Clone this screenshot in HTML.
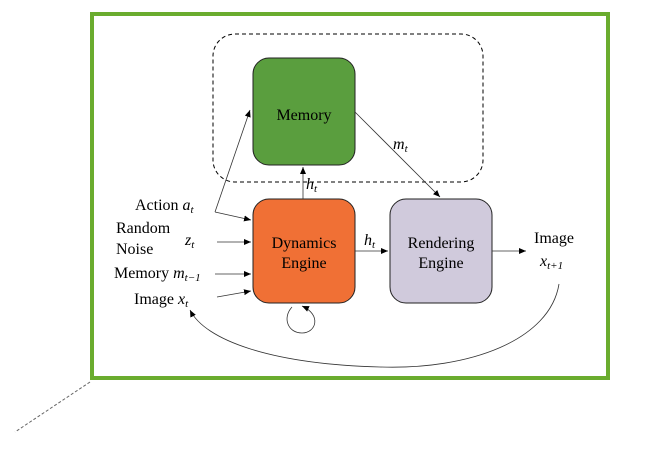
<!DOCTYPE html>
<html><head><style>body{margin:0;background:#fff}</style></head><body>
<svg width="645" height="452" viewBox="0 0 645 452" xmlns="http://www.w3.org/2000/svg" font-family="Liberation Serif, serif" font-size="14">
<defs><marker id="a" markerWidth="8" markerHeight="8" refX="7" refY="3" orient="auto" markerUnits="userSpaceOnUse"><path d="M0,0 L7,3 L0,6 z" fill="#000"/></marker></defs>
<rect x="92" y="14" width="516" height="364" fill="none" stroke="#6aac2e" stroke-width="4"/>
<line x1="90" y1="382" x2="15" y2="432" stroke="#666" stroke-dasharray="3,2"/>
<rect x="213" y="34" width="270" height="148" rx="22" fill="none" stroke="#000" stroke-dasharray="4,3"/>
<rect x="253" y="58" width="102" height="107" rx="16" fill="#5a9e3e" stroke="#222"/>
<rect x="253" y="199" width="102" height="104" rx="16" fill="#f07035" stroke="#222"/>
<rect x="390" y="199" width="102" height="104" rx="16" fill="#d0cadc" stroke="#222"/>
<text x="304" y="120" text-anchor="middle" font-size="16">Memory</text>
<text x="304" y="248" text-anchor="middle" font-size="16">Dynamics</text>
<text x="304" y="268" text-anchor="middle" font-size="16">Engine</text>
<text x="441" y="248" text-anchor="middle" font-size="16">Rendering</text>
<text x="441" y="268" text-anchor="middle" font-size="16">Engine</text>
<g stroke="#333" fill="none" stroke-width="0.8">
<polyline points="215,212 250,110" marker-end="url(#a)"/>
<polyline points="215,212 251,220" marker-end="url(#a)"/>
<line x1="217" y1="242" x2="251" y2="242" marker-end="url(#a)"/>
<line x1="215" y1="274" x2="251" y2="274" marker-end="url(#a)"/>
<line x1="217" y1="297" x2="251" y2="291" marker-end="url(#a)"/>
<line x1="303" y1="199" x2="303" y2="167" marker-end="url(#a)"/>
<line x1="355" y1="251" x2="388" y2="251" marker-end="url(#a)"/>
<line x1="355" y1="112" x2="440" y2="197" marker-end="url(#a)"/>
<line x1="492" y1="251" x2="526" y2="251" marker-end="url(#a)"/>
<path d="M292,307 C282,318 288,333 302,333 C316,333 322,315 302,306" marker-end="url(#a)"/>
<path d="M559,284 C550,340 470,370 380,367 C270,364 205,340 190,310" marker-end="url(#a)"/>
</g>
<g font-size="16">
<text x="135" y="210">Action <tspan font-style="italic">a<tspan font-size="11" dy="3">t</tspan></tspan></text>
<text x="116" y="233">Random</text>
<text x="116" y="254">Noise</text>
<text x="185" y="245" font-style="italic">z<tspan font-size="11" dy="3">t</tspan></text>
<text x="114" y="278">Memory <tspan font-style="italic">m<tspan font-size="11" dy="3">t−1</tspan></tspan></text>
<text x="134" y="304">Image <tspan font-style="italic">x<tspan font-size="11" dy="3">t</tspan></tspan></text>
<text x="306" y="189" font-style="italic">h<tspan font-size="11" dy="3">t</tspan></text>
<text x="364" y="245" font-style="italic">h<tspan font-size="11" dy="3">t</tspan></text>
<text x="393" y="149" font-style="italic">m<tspan font-size="11" dy="3">t</tspan></text>
<text x="534" y="243">Image</text>
<text x="540" y="266" font-style="italic">x<tspan font-size="11" dy="3">t+1</tspan></text>
</g>
</svg>
</body></html>
